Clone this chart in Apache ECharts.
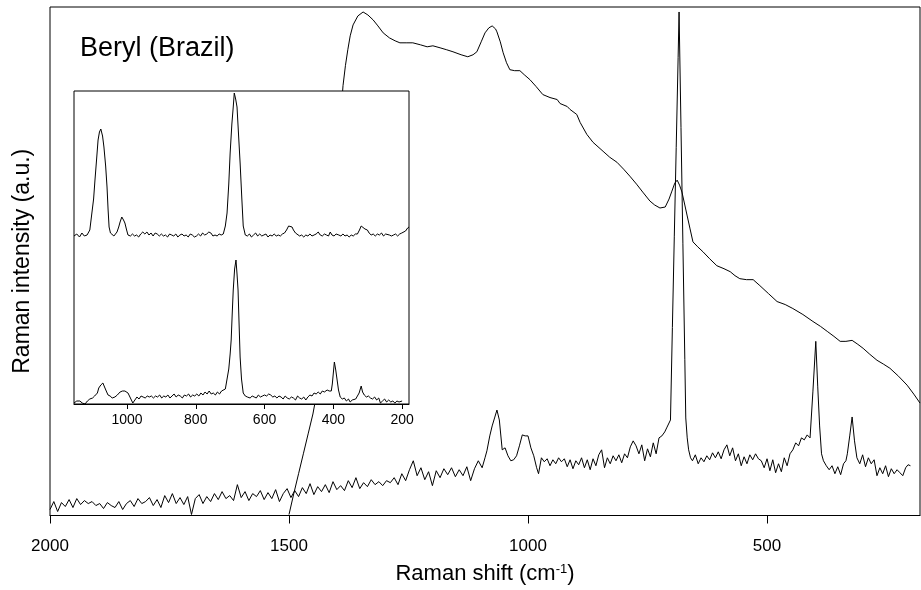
<!DOCTYPE html>
<html>
<head>
<meta charset="utf-8">
<script src="https://cdn.jsdelivr.net/npm/echarts@6/dist/echarts.min.js"></script>
<style>
  html, body { margin: 0; padding: 0; background: #fff; }
  #chart { width: 921px; height: 590px; }
</style>
</head>
<body>
<div id="chart"></div>
<script>
// main panel: Raman shift (cm-1) / intensity (a.u.)
const ramanSpectrum = [
  [2000,6],[1992,14],[1984,4],[1976,13],[1968,9],[1960,16],[1952,8],[1944,17],[1936,11],[1928,15],
  [1920,12],[1912,14],[1904,10],[1896,12],[1888,7],[1880,13],[1872,10],[1864,8],[1856,14],[1848,6],
  [1840,12],[1832,15],[1824,9],[1816,17],[1808,12],[1800,14],[1792,18],[1784,10],[1776,16],[1768,8],
  [1760,20],[1752,13],[1744,22],[1736,12],[1728,18],[1720,11],[1712,19],[1704,1],[1696,17],[1688,21],
  [1680,12],[1672,19],[1664,14],[1656,22],[1648,16],[1640,24],[1632,17],[1624,20],[1616,15],[1608,31],
  [1600,18],[1592,24],[1584,15],[1576,22],[1568,19],[1560,25],[1552,16],[1544,23],[1536,17],[1528,26],
  [1520,14],[1512,22],[1504,27],[1496,18],[1488,25],[1480,19],[1472,28],[1464,22],[1456,32],[1448,21],
  [1440,29],[1432,24],[1424,31],[1416,23],[1408,34],[1400,26],[1392,30],[1384,25],[1376,35],[1368,28],
  [1360,38],[1352,27],[1344,33],[1336,29],[1328,36],[1320,31],[1312,34],[1304,30],[1296,35],[1288,33],
  [1280,38],[1272,31],[1264,42],[1256,35],[1248,46],[1240,55],[1232,40],[1224,48],[1216,36],[1208,44],
  [1200,30],[1192,45],[1184,38],[1176,47],[1168,41],[1160,48],[1152,39],[1144,46],[1136,40],[1128,49],
  [1120,35],[1112,47],[1104,55],[1096,48],[1090,58],[1086,65],[1080,80],[1075,90],[1070,98],[1065,106],
  [1060,96],[1054,66],[1048,68],[1042,60],[1036,55],[1030,56],[1024,60],[1018,70],[1012,81],[1006,80],
  [1000,80],[994,68],[988,60],[982,48],[978,42],[972,58],[966,54],[960,57],[954,50],[948,56],
  [942,52],[936,58],[930,54],[924,57],[918,49],[912,56],[906,47],[900,55],[894,51],[888,58],
  [882,48],[876,56],[870,46],[864,57],[858,50],[852,61],[846,66],[840,48],[834,58],[828,52],
  [822,60],[816,55],[810,61],[804,53],[798,62],[792,58],[786,69],[780,75],[774,70],[768,62],
  [762,71],[756,55],[750,67],[744,59],[738,73],[732,62],[726,78],[720,80],[714,84],[710,88],
  [706,90],[702,96],[698,189],[694,280],[690,370],[686,460],[684,506],[680,390],[676,273],[672,157],
  [670,98],[667,78],[664,66],[660,58],[656,55],[650,61],[644,52],[638,58],[632,54],[626,60],
  [620,56],[614,63],[608,58],[602,64],[596,57],[590,66],[584,71],[578,60],[572,68],[566,55],
  [560,62],[554,50],[548,59],[542,52],[536,61],[530,56],[524,62],[518,57],[512,55],[506,48],
  [500,57],[494,45],[488,56],[482,43],[476,52],[470,44],[464,58],[458,50],[452,62],[446,66],
  [440,73],[434,70],[428,78],[422,76],[416,81],[410,78],[404,125],[398,175],[394,130],[390,90],
  [386,62],[382,55],[376,50],[370,46],[364,50],[358,42],[352,49],[346,41],[340,52],[335,55],
  [332,62],[327,80],[322,99],[317,75],[312,58],[306,52],[300,61],[294,49],[288,58],[282,52],
  [276,56],[270,40],[264,48],[258,42],[252,50],[246,39],[240,47],[234,42],[228,46],[222,43],
  [216,40],[210,48],[205,51],[200,50]
];

// broad fluorescence curve of the same sample
const fluorescence = [
  [1500,1],[1490,22],[1480,42],[1470,62],[1460,82],[1450,102],[1440,128],[1430,160],[1420,205],[1410,265],
  [1400,335],[1392,400],[1387,432],[1382,452],[1377,468],[1372,482],[1366,493],[1356,502],[1345,506],[1335,503],
  [1324,498],[1314,492],[1303,485],[1290,480],[1278,477],[1268,475],[1255,475],[1241,475],[1225,473],[1211,471],
  [1199,472],[1184,470],[1170,468],[1157,466],[1140,463],[1126,461],[1115,463],[1107,466],[1098,476],[1090,485],
  [1082,490],[1075,492],[1068,489],[1065,486],[1058,476],[1052,465],[1045,455],[1038,448],[1028,447],[1017,447],
  [1008,443],[996,438],[983,431],[969,423],[954,420],[939,418],[933,414],[918,411],[912,408],[898,403],
  [891,395],[877,383],[864,375],[843,366],[829,360],[814,355],[800,348],[787,341],[773,333],[760,325],
  [745,316],[735,312],[724,309],[713,310],[705,318],[699,326],[693,334],[688,337],[683,332],[678,325],
  [672,312],[667,301],[661,288],[655,275],[645,270],[634,265],[620,258],[605,251],[590,248],[577,245],
  [567,241],[557,238],[543,237],[529,237],[515,231],[497,223],[479,215],[462,212],[446,208],[425,202],
  [404,195],[388,190],[374,185],[360,180],[347,175],[335,175],[322,176],[310,172],[299,168],[285,162],
  [270,156],[256,152],[243,148],[225,140],[207,131],[193,122],[180,113]
];

// inset: upper spectrum
const insetUpper = [
  [1154,168],[1146,170],[1138,167],[1131,171],[1124,168],[1116,169],[1108,174],[1102,191],[1097,205],[1093,224],
  [1088,246],[1084,264],[1080,272],[1076,275],[1071,268],[1067,257],[1062,238],[1058,217],[1055,195],[1052,177],
  [1048,171],[1044,169],[1038,168],[1033,170],[1029,172],[1024,177],[1020,182],[1015,187],[1010,184],[1006,181],
  [1001,174],[997,169],[990,168],[984,170],[978,168],[972,169],[966,167],[960,170],[954,172],[948,170],
  [942,172],[936,169],[930,171],[924,168],[918,171],[912,170],[906,168],[900,170],[894,168],[888,169],
  [882,167],[876,170],[870,169],[864,168],[858,170],[852,167],[846,169],[840,170],[834,168],[828,169],
  [822,167],[816,170],[810,169],[804,167],[798,168],[792,170],[786,168],[780,171],[774,169],[768,170],
  [762,172],[756,171],[750,168],[744,169],[738,168],[732,170],[726,169],[720,170],[714,178],[709,191],
  [704,220],[700,251],[695,280],[691,297],[688,311],[684,305],[680,297],[676,272],[671,241],[666,205],
  [662,178],[656,169],[650,168],[644,170],[638,167],[632,169],[626,171],[620,168],[614,170],[608,168],
  [602,169],[596,170],[590,167],[584,169],[578,168],[572,170],[566,168],[560,169],[554,168],[548,170],
  [542,171],[536,174],[530,178],[525,180],[520,177],[516,174],[510,171],[505,169],[498,168],[492,169],
  [486,167],[480,169],[474,168],[468,170],[462,168],[456,169],[450,170],[444,172],[438,169],[432,168],
  [426,170],[420,169],[414,168],[409,172],[404,169],[398,168],[392,170],[389,172],[384,169],[378,168],
  [372,170],[366,168],[360,169],[354,167],[348,169],[342,168],[336,170],[330,170],[324,174],[319,178],
  [314,176],[308,175],[301,174],[296,171],[290,169],[284,170],[278,168],[272,170],[266,169],[260,171],
  [254,168],[248,170],[243,171],[237,169],[231,168],[225,169],[219,170],[213,168],[207,170],[201,171],
  [196,171],[190,173],[184,176],[180,177]
];

// inset: lower spectrum
const insetLower = [
  [1154,1],[1146,3],[1137,3],[1130,1],[1122,0],[1115,3],[1108,5],[1100,6],[1094,8],[1090,7],
  [1086,11],[1082,16],[1076,19],[1070,21],[1064,16],[1059,12],[1055,9],[1049,8],[1043,6],[1035,7],
  [1028,9],[1020,12],[1013,13],[1006,13],[1001,12],[997,11],[990,6],[983,1],[977,4],[971,7],
  [965,5],[959,8],[953,7],[947,6],[941,8],[935,7],[929,8],[923,6],[917,8],[911,7],
  [905,9],[899,6],[893,8],[887,7],[881,9],[875,6],[869,8],[863,10],[857,7],[851,9],
  [845,8],[839,6],[833,9],[827,8],[821,10],[815,7],[809,9],[803,8],[797,10],[791,8],
  [785,11],[779,9],[773,12],[767,10],[761,13],[755,10],[749,11],[743,9],[737,12],[731,10],
  [725,13],[720,12],[714,15],[709,17],[704,35],[700,50],[697,64],[694,90],[691,114],[687,135],
  [683,144],[680,130],[677,114],[674,80],[671,47],[667,25],[662,11],[656,8],[650,7],[642,6],
  [636,8],[630,7],[624,6],[618,9],[612,7],[606,8],[600,9],[594,8],[588,10],[582,9],
  [576,7],[570,8],[564,6],[558,8],[552,7],[546,5],[540,8],[534,6],[528,5],[522,7],
  [516,6],[510,4],[504,8],[498,6],[492,5],[486,7],[480,4],[474,7],[468,9],[462,8],
  [456,11],[450,10],[444,12],[438,10],[432,13],[426,12],[418,14],[412,13],[406,13],[403,20],
  [400,31],[397,42],[393,34],[389,24],[385,14],[380,7],[374,5],[368,6],[362,3],[356,5],
  [351,2],[345,4],[340,6],[335,5],[330,7],[325,11],[319,18],[315,12],[310,9],[304,7],
  [298,8],[292,6],[286,5],[280,7],[274,4],[268,6],[263,1],[257,3],[251,5],[245,2],
  [239,4],[233,2],[227,3],[221,1],[215,3],[209,2],[205,4],[200,3]
];

const mainTicks = [500, 1000, 1500, 2000];
const insetTicks = [200, 400, 600, 800, 1000];

const chart = echarts.init(document.getElementById('chart'));
const font = '"Liberation Sans", Arial, sans-serif';

function trace(data, idx, z) {
  return {
    type: 'line',
    xAxisIndex: idx,
    yAxisIndex: idx,
    data: data,
    showSymbol: false,
    silent: true,
    z: z,
    lineStyle: { color: '#000', width: 1 }
  };
}

const plain = v => String(v);

const option = {
  animation: false,
  backgroundColor: '#fff',
  title: {
    text: 'Beryl (Brazil)',
    left: 80, top: 35, padding: 0,
    textStyle: { fontFamily: font, fontSize: 27, fontWeight: 'normal', color: '#000' }
  },
  grid: [
    { left: 50, top: 7, right: 1, bottom: 72, show: true, borderColor: '#000', borderWidth: 1 },
    { left: 74, top: 91, width: 335, height: 313, show: true, borderColor: '#000', borderWidth: 1,
      backgroundColor: '#fff', z: 5 }
  ],
  xAxis: [
    {
      gridIndex: 0, type: 'value', inverse: true, min: 180, max: 2000,
      name: '{n|Raman shift (cm}{s|-1}{n|)}',
      nameLocation: 'middle', nameGap: 47,
      nameTextStyle: {
        rich: {
          n: { fontFamily: font, fontSize: 22, color: '#000', lineHeight: 23 },
          s: { fontFamily: font, fontSize: 13, color: '#000', verticalAlign: 'top', lineHeight: 13 }
        }
      },
      axisLine: { lineStyle: { color: '#000', width: 1 } },
      axisTick: { customValues: mainTicks, length: 8, lineStyle: { color: '#000' } },
      axisLabel: { customValues: mainTicks, formatter: plain, margin: 22, fontFamily: font, fontSize: 17, color: '#000' },
      splitLine: { show: false }
    },
    {
      gridIndex: 1, type: 'value', inverse: true, min: 180, max: 1154, z: 6,
      axisLine: { lineStyle: { color: '#000', width: 1 } },
      axisTick: { customValues: insetTicks, length: 5, lineStyle: { color: '#000' } },
      axisLabel: { customValues: insetTicks, formatter: plain, margin: 9, fontFamily: font, fontSize: 14, color: '#000' },
      splitLine: { show: false }
    }
  ],
  yAxis: [
    {
      gridIndex: 0, type: 'value', min: 0, max: 511,
      name: 'Raman intensity (a.u.)', nameLocation: 'middle', nameGap: 16,
      nameTextStyle: { fontFamily: font, fontSize: 23, color: '#000' },
      axisLine: { show: false }, axisTick: { show: false }, axisLabel: { show: false },
      splitLine: { show: false }
    },
    {
      gridIndex: 1, type: 'value', min: 0, max: 313, show: false
    }
  ],
  series: [
    trace(ramanSpectrum, 0, 2),
    trace(fluorescence, 0, 2),
    trace(insetUpper, 1, 6),
    trace(insetLower, 1, 6)
  ]
};

chart.setOption(option);
</script>
</body>
</html>
